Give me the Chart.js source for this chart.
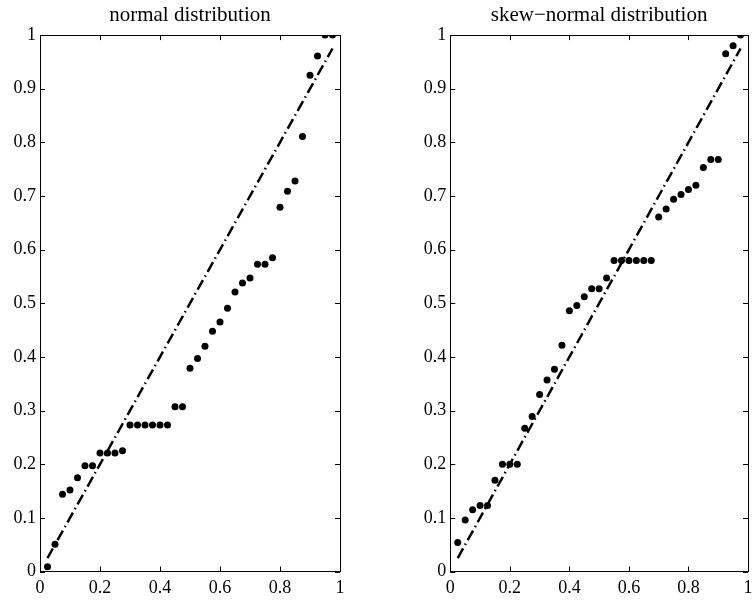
<!DOCTYPE html>
<html>
<head>
<meta charset="utf-8">
<script src="https://cdn.jsdelivr.net/npm/chart.js@4"></script>
<style>
  html, body { margin: 0; padding: 0; background: #fff; overflow: hidden; }
  #wrap { position: relative; width: 752px; height: 600px; }
  .panel { position: absolute; top: 0; width: 376px; height: 600px; }
</style>
</head>
<body>
<div id="wrap">
  <div class="panel" style="left:0"><canvas id="left"></canvas></div>
  <div class="panel" style="left:376px"><canvas id="right"></canvas></div>
</div>
<script>
const probs = [0.025, 0.05, 0.075, 0.1, 0.125, 0.15, 0.175, 0.2, 0.225, 0.25,
  0.275, 0.3, 0.325, 0.35, 0.375, 0.4, 0.425, 0.45, 0.475, 0.5,
  0.525, 0.55, 0.575, 0.6, 0.625, 0.65, 0.675, 0.7, 0.725, 0.75,
  0.775, 0.8, 0.825, 0.85, 0.875, 0.9, 0.925, 0.95, 0.975];

const normalVals = [0.009, 0.051, 0.144, 0.152, 0.175, 0.197, 0.197, 0.221, 0.221, 0.221,
  0.225, 0.273, 0.273, 0.273, 0.273, 0.273, 0.273, 0.307, 0.307, 0.379,
  0.397, 0.420, 0.448, 0.465, 0.491, 0.521, 0.538, 0.547, 0.573, 0.573,
  0.585, 0.679, 0.709, 0.728, 0.811, 0.925, 0.961, 1.0, 1.0];

const skewVals = [0.054, 0.096, 0.115, 0.123, 0.123, 0.170, 0.200, 0.200, 0.200, 0.267,
  0.289, 0.330, 0.357, 0.377, 0.422, 0.486, 0.496, 0.512, 0.527, 0.527,
  0.547, 0.580, 0.580, 0.580, 0.580, 0.580, 0.580, 0.661, 0.676, 0.694,
  0.703, 0.712, 0.720, 0.753, 0.768, 0.768, 0.965, 0.980, 1.0];

const refLine = [0.025, 0.975];

const xTickLabels = ["0", "0.2", "0.4", "0.6", "0.8", "1"];
const yTickLabels = ["0", "0.1", "0.2", "0.3", "0.4", "0.5", "0.6", "0.7", "0.8", "0.9", "1"];

const serif = "'Liberation Serif', 'DejaVu Serif', serif";

// box + inward tick marks on all four sides, MATLAB style
const boxTicks = {
  id: "boxTicks",
  afterDraw: (chart) => {
    const ctx = chart.ctx;
    const a = chart.chartArea;
    const len = 5;
    ctx.save();
    ctx.strokeStyle = "#000";
    ctx.lineWidth = 1;
    ctx.beginPath();
    chart.scales.x.ticks.forEach((t) => {
      const px = Math.round(chart.scales.x.getPixelForValue(t.value)) + 0.5;
      ctx.moveTo(px, a.bottom); ctx.lineTo(px, a.bottom - len);
      ctx.moveTo(px, a.top); ctx.lineTo(px, a.top + len);
    });
    chart.scales.y.ticks.forEach((t) => {
      const py = Math.round(chart.scales.y.getPixelForValue(t.value)) + 0.5;
      ctx.moveTo(a.left, py); ctx.lineTo(a.left + len, py);
      ctx.moveTo(a.right, py); ctx.lineTo(a.right - len, py);
    });
    ctx.stroke();
    ctx.strokeRect(Math.round(a.left) + 0.5, Math.round(a.top) + 0.5,
      Math.round(a.right - a.left), Math.round(a.bottom - a.top));
    ctx.restore();
  }
};

const make_chart = (id, title, vals, yWidth, padRight) => {
  const ctx = document.getElementById(id).getContext("2d");
  return new Chart(ctx, {
    type: "scatter",
    data: {
      datasets: [
        {
          label: "reference",
          type: "line",
          data: refLine.map((v) => ({ x: v, y: v })),
          borderColor: "#000",
          borderWidth: 2.5,
          borderDash: [11, 4, 1.5, 4],
          pointRadius: 0,
          fill: false
        },
        {
          label: "empirical",
          data: probs.map((p, i) => ({ x: p, y: vals[i] })),
          backgroundColor: "#000",
          borderColor: "#000",
          pointRadius: 3.5,
          pointBorderWidth: 0
        }
      ]
    },
    options: {
      responsive: true,
      maintainAspectRatio: false,
      animation: false,
      events: [],
      layout: { padding: { left: 0, right: padRight, top: 0, bottom: 0 } },
      plugins: {
        legend: { display: false },
        tooltip: { enabled: false },
        title: {
          display: true,
          text: title,
          fullSize: false,
          color: "#000",
          font: { family: serif, size: 21, weight: "normal", lineHeight: 1.1 },
          padding: { top: 4, bottom: 8 }
        }
      },
      scales: {
        x: {
          type: "linear",
          min: 0,
          max: 1,
          grid: { display: false, drawTicks: false },
          border: { display: false },
          ticks: {
            stepSize: 0.2,
            color: "#000",
            padding: 6,
            maxRotation: 0,
            font: { family: serif, size: 18 },
            callback: (v, i) => xTickLabels[i]
          },
          afterFit: (s) => { s.height = 28.5; s.paddingLeft = 0; s.paddingRight = 0; }
        },
        y: {
          type: "linear",
          min: 0,
          max: 1,
          grid: { display: false, drawTicks: false },
          border: { display: false },
          ticks: {
            stepSize: 0.1,
            color: "#000",
            padding: 4,
            font: { family: serif, size: 18 },
            callback: (v, i) => yTickLabels[i]
          },
          afterFit: (s) => { s.width = yWidth; s.paddingTop = 0; s.paddingBottom = 0; }
        }
      }
    },
    plugins: [boxTicks]
  });
};

make_chart("left", "normal distribution", normalVals, 40, 36);
make_chart("right", "skew\u2212normal distribution", skewVals, 74.3, 2.7);
</script>
</body>
</html>
